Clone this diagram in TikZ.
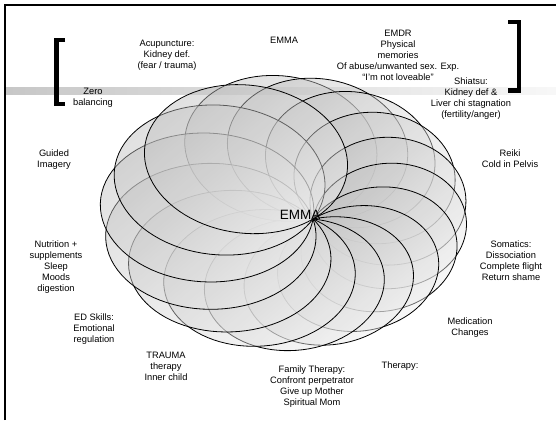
\documentclass[tikz,border=0pt]{standalone}
\usepackage{fontspec}
\setmainfont{Liberation Sans}
% ring of circles through one point, seen in perspective
% #1 = direction of the circle's centre, #2 = parameter along the circle
\pgfmathdeclarefunction{swx}{2}{\pgfmathparse{313+89.5*(cos(#1)+cos(#2))/(1+0.0797*(cos(#1)+cos(#2))+0.022*(sin(#1)+sin(#2)))}}
\pgfmathdeclarefunction{swy}{2}{\pgfmathparse{219+67.9*(sin(#1)+sin(#2))/(1+0.0797*(cos(#1)+cos(#2))+0.022*(sin(#1)+sin(#2)))}}
\begin{document}
\begin{tikzpicture}[x=1pt,y=-1pt,
  lbl/.style={align=center, font=\fontsize{9.3}{11}\selectfont, inner sep=0pt},
  petal/.style={top color=black!26, bottom color=black!7, shading angle=40,
                fill opacity=0.45, draw=black, line width=0.8pt},
  brk/.style={line width=4.5pt, line cap=butt, line join=miter}]
\useasboundingbox (0,0) rectangle (556,420);

% frame
\draw[line width=1.1pt] (5,420) -- (5,5) -- (556,5);

% pale band behind the swirl
\shade[left color=black!22, right color=black!3] (6,87) rectangle (556,94);

% brackets
\draw[brk] (65,40) -- (56.5,40) -- (56.5,104) -- (65,104);
\draw[brk] (508,22) -- (519,22) -- (519,90.5) -- (508,90.5);

% the common point of all ellipses
\coordinate (P) at (313,219);

% translucent ellipses, each laid over the previous one, going clockwise
\foreach \th in {255,277.5,300,322.5,345,7.5,30,52.5,75,97.5,120,142.5,165,187.5,210,232.5} {
  \shadedraw[petal] plot[domain=\th+180:\th+540, samples=91, variable=\t] ({swx(\th,\t)},{swy(\th,\t)}) -- cycle;
}

\node[font=\fontsize{13.5}{15}\selectfont, inner sep=0pt] (emmac) at (300,215) {EMMA};

% labels around the swirl
\node[lbl] (acu) at (167,55) {Acupuncture:\\Kidney def.\\(fear / trauma)};
\node[lbl] (emma) at (284,40) {EMMA};
\node[lbl] (emdr) at (398,55) {EMDR\\Physical\\memories\\Of abuse/unwanted sex. Exp.\\“I’m not loveable”};
\node[lbl] (shiatsu) at (471,98.5) {Shiatsu:\\Kidney def \&\\Liver chi stagnation\\(fertility/anger)};
\node[lbl] (zero) at (93,98) {Zero\\balancing};
\node[lbl] (guided) at (54,160) {Guided\\Imagery};
\node[lbl] (reiki) at (510,159) {Reiki\\Cold in Pelvis};
\node[lbl] (nutri) at (56,267) {Nutrition +\\supplements\\Sleep\\Moods\\digestion};
\node[lbl] (soma) at (511,261) {Somatics:\\Dissociation\\Complete flight\\Return shame};
\node[lbl] (ed) at (94,329.5) {ED Skills:\\Emotional\\regulation};
\node[lbl] (medi) at (470,328) {Medication\\Changes};
\node[lbl] (trauma) at (166,366) {TRAUMA\\therapy\\Inner child};
\node[lbl] (family) at (312,386.5) {Family Therapy:\\Confront perpetrator\\Give up Mother\\Spiritual Mom};
\node[lbl] (therapy) at (400,366) {Therapy:};
\end{tikzpicture}
\end{document}
